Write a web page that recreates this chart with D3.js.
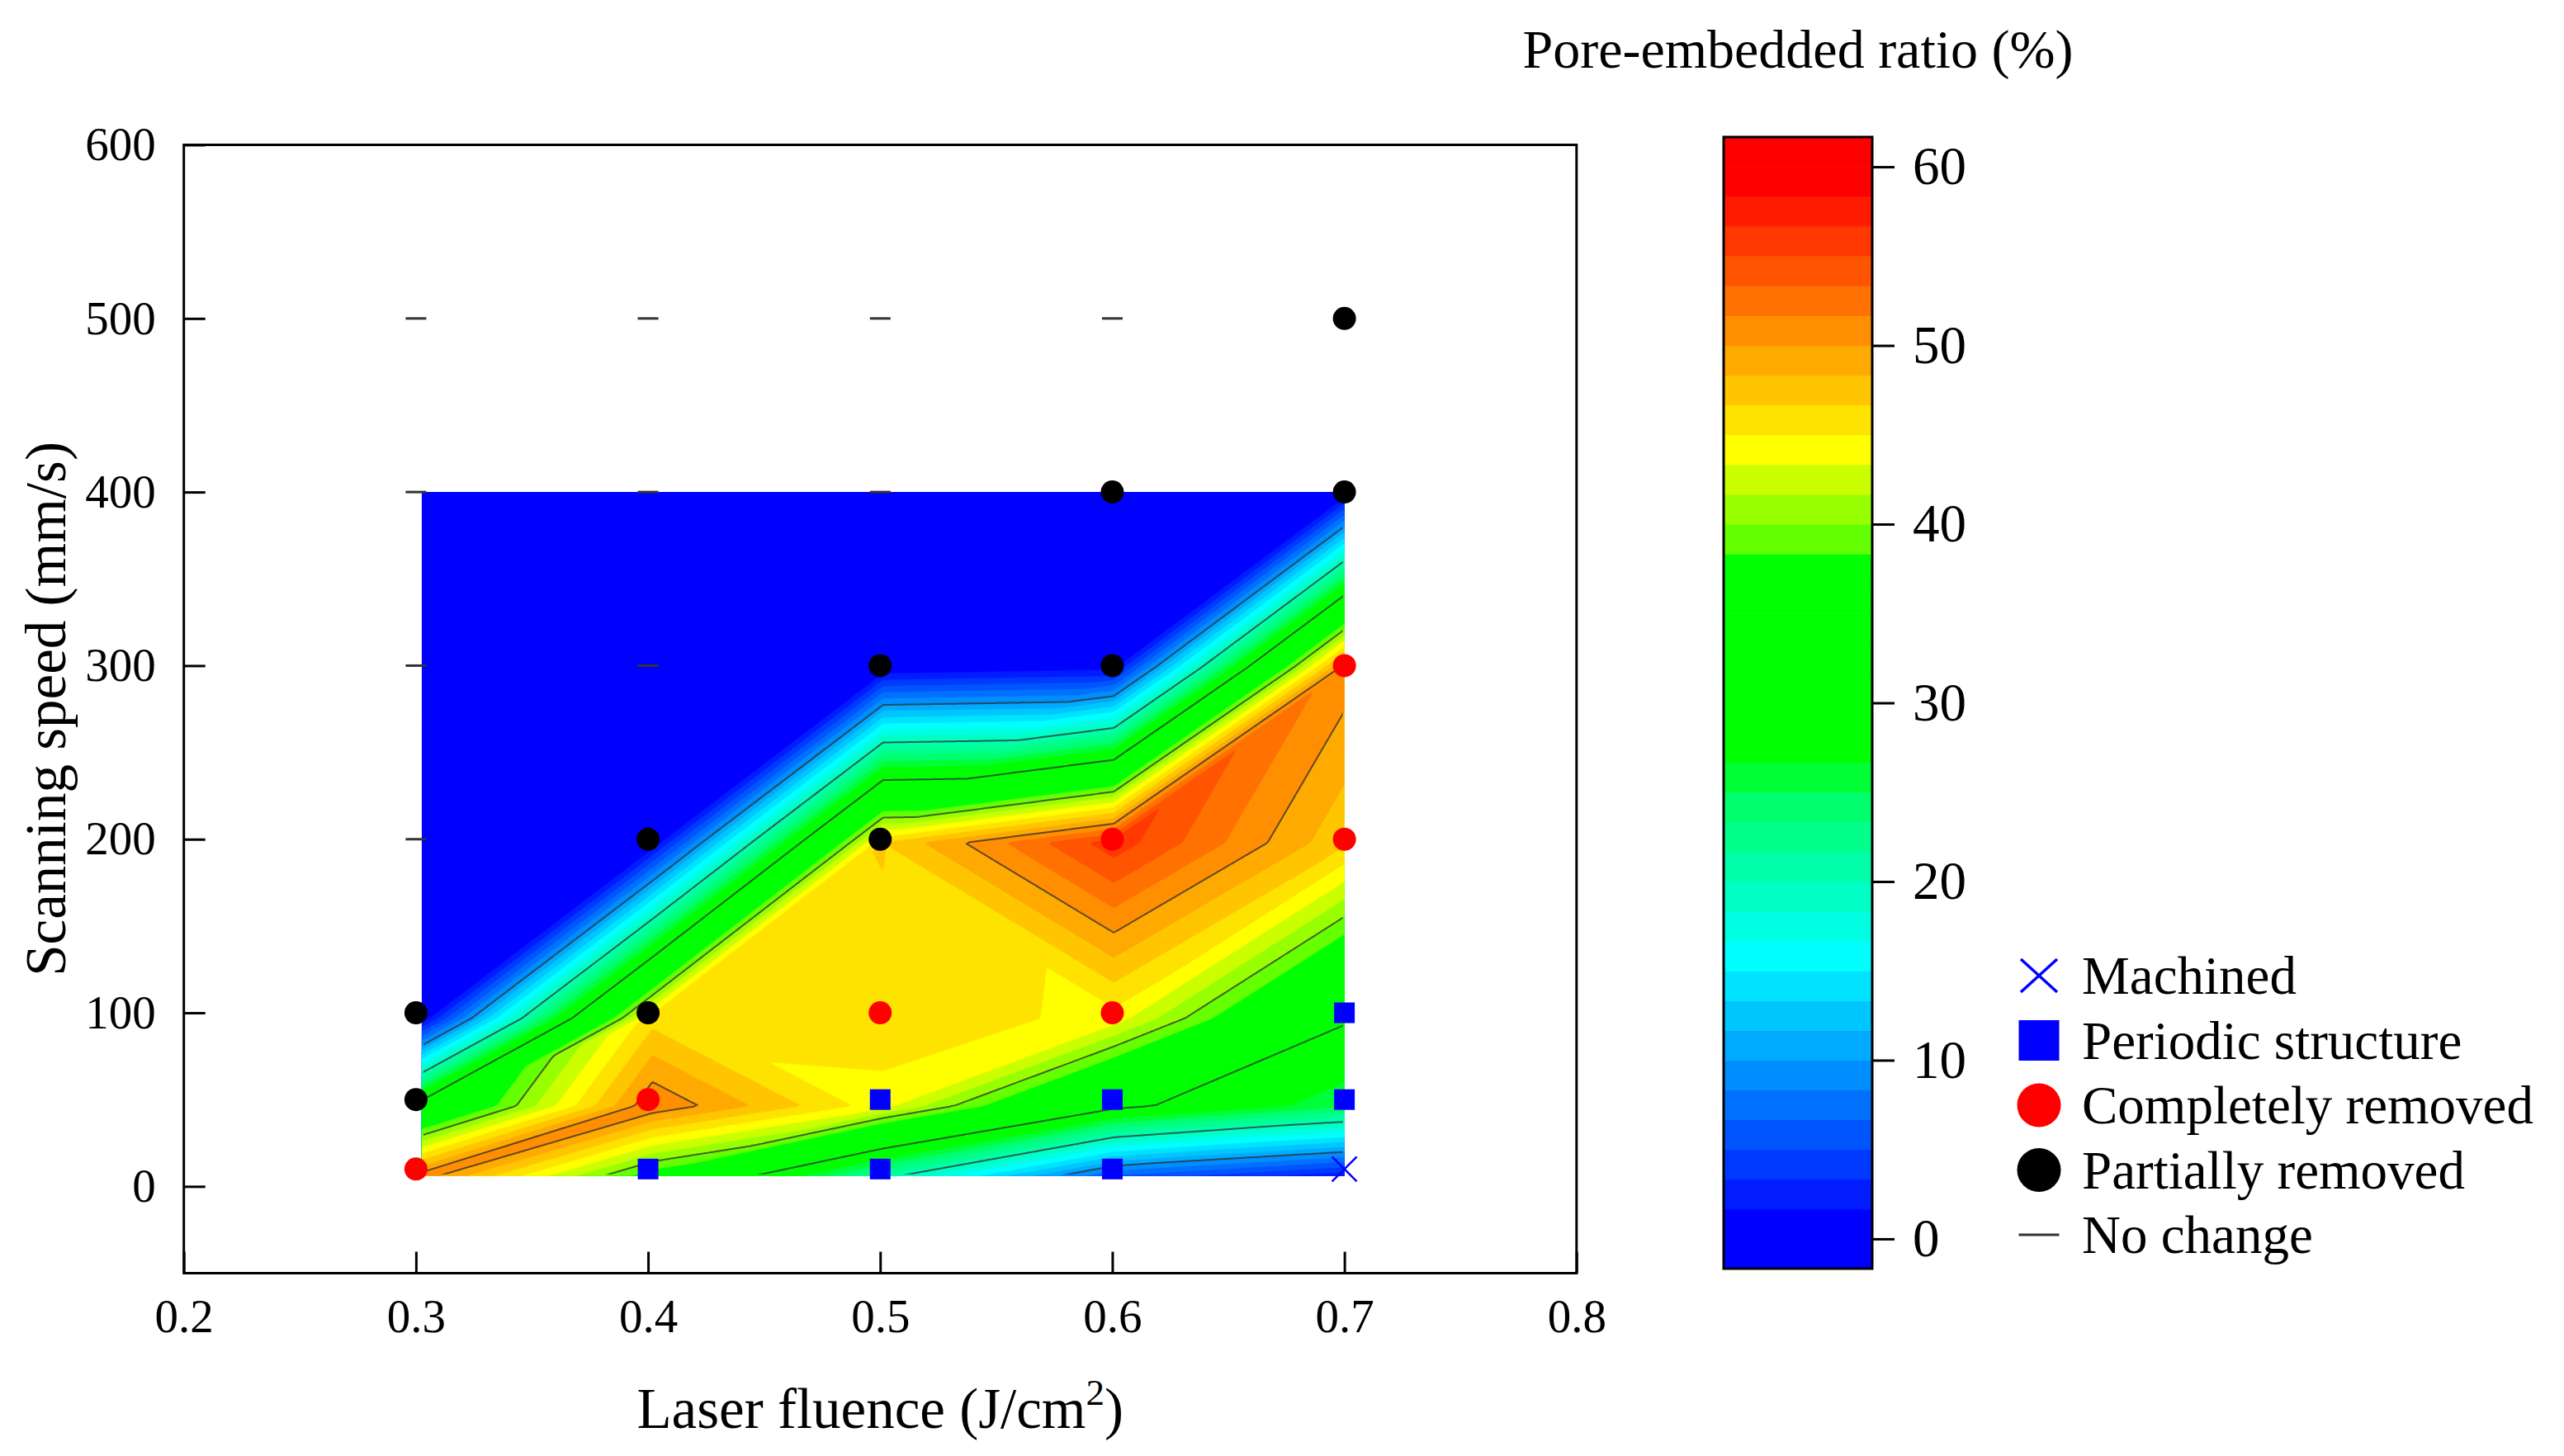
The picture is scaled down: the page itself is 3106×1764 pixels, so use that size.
<!DOCTYPE html>
<html lang="en">
<head>
<meta charset="UTF-8">
<script src="https://d3js.org/d3.v7.min.js"></script>
<title>Pore-embedded ratio contour</title>
<style>
    body { margin: 0; background: #fff; }
    svg text { font-family: "Liberation Serif", "Times New Roman", serif; fill: #000; }
</style>
</head>
<body>
<script>
    // measured grid: laser fluence (J/cm2) x scanning speed (mm/s)
    var fluence = [0.3, 0.4, 0.5, 0.6, 0.7];
    var speed = [10, 50, 100, 200, 300, 400];

    // pore-embedded ratio (%), one row per scanning speed
    var ratio10  = [51, 37, 21, 6.5, 2];
    var ratio50  = [32, 51.5, 44, 31, 25.3];
    var ratio100 = [0, 46, 46.5, 44.3, 30.4];
    var ratio200 = [0, 0, 46.7, 56, 47];
    var ratio300 = [0, 0, 0, 1, 51];
    var ratio400 = [0, 0, 0, 0, 0];

    // surface state at each test point [fluence, speed]
    var machined = [[0.7, 10]];
    var periodic = [[0.4, 10], [0.5, 10], [0.6, 10], [0.5, 50], [0.6, 50], [0.7, 50], [0.7, 100]];
    var completely = [[0.3, 10], [0.4, 50], [0.5, 100], [0.6, 100], [0.6, 200], [0.7, 200], [0.7, 300]];
    var partially = [[0.3, 50], [0.3, 100], [0.4, 100], [0.4, 200], [0.5, 200], [0.5, 300],
                     [0.6, 300], [0.6, 400], [0.7, 400], [0.7, 500]];
    var noChange = [[0.3, 200], [0.3, 300], [0.4, 300], [0.3, 400], [0.4, 400], [0.5, 400],
                    [0.3, 500], [0.4, 500], [0.5, 500], [0.6, 500]];

    var xTicks = [0.2, 0.3, 0.4, 0.5, 0.6, 0.7, 0.8];
    var yTicks = [0, 100, 200, 300, 400, 500, 600];
    var barTicks = [0, 10, 20, 30, 40, 50, 60];
    var lineLevels = [10, 20, 30, 40, 50];
    var legendNames = ["Machined", "Periodic structure", "Completely removed", "Partially removed", "No change"];

    var w = 3106, h = 1764;
    var svg = d3.select("body").append("svg").attr("width", w).attr("height", h);

    var x = d3.scaleLinear().domain([0.2, 0.8]).range([222.7, 1909.8]);
    var y = d3.scaleLinear().domain([-50, 600]).range([1542.5, 175.5]);

    // the contour layer sits a little off the marker grid in the original
    var xc = d3.scaleLinear().domain([0.3, 0.7]).range([x(0.3025), x(0.7)]);
    var yc = d3.scaleLinear().domain([10, 400]).range([y(6), y(400)]);

    var rows = [ratio10, ratio50, ratio100, ratio200, ratio300, ratio400];

    // linear interpolation on triangles, each cell split along the flatter diagonal
    function surface(fx, sy) {
        var i = Math.max(0, Math.min(d3.bisectRight(fluence, fx) - 1, fluence.length - 2));
        var j = Math.max(0, Math.min(d3.bisectRight(speed, sy) - 1, speed.length - 2));
        var u = Math.max(0, Math.min(1, (fx - fluence[i]) / (fluence[i + 1] - fluence[i])));
        var v = Math.max(0, Math.min(1, (sy - speed[j]) / (speed[j + 1] - speed[j])));
        var a = rows[j][i], b = rows[j][i + 1], c = rows[j + 1][i], d = rows[j + 1][i + 1];
        if (Math.abs(a - d) <= Math.abs(b - c)) {
            return u >= v ? a + u * (b - a) + v * (d - b) : a + v * (c - a) + u * (d - c);
        }
        return u + v <= 1 ? a + u * (b - a) + v * (c - a) : d + (1 - u) * (c - d) + (1 - v) * (b - d);
    }

    var cLeft = xc(0.3), cRight = xc(0.7), cTop = yc(400), cBottom = yc(10);
    var step = 2;
    var nx = Math.round((cRight - cLeft) / step) + 1, ny = Math.round((cBottom - cTop) / step) + 1;
    var dx = (cRight - cLeft) / (nx - 1), dy = (cBottom - cTop) / (ny - 1);
    var NX = nx + 2, NY = ny + 2;
    var grid = new Float64Array(NX * NY).fill(-100);
    for (var r = 0; r < ny; r++) {
        var sv = yc.invert(cTop + r * dy);
        for (var k = 0; k < nx; k++) {
            grid[(r + 1) * NX + k + 1] = surface(xc.invert(cLeft + k * dx), sv);
        }
    }

    var toScreen = d3.geoTransform({
        point: function(gx, gy) {
            this.stream.point(cLeft + (gx - 1.5) * dx, cTop + (gy - 1.5) * dy);
        }
    });
    var path = d3.geoPath(toScreen);

    var levels = d3.range(0, 38).map(function(k) { return -5 / 3 + k * 5 / 3; });
    var bandColor = d3.scaleLinear()
        .domain([0, 15, 70 / 3, 80 / 3, 110 / 3, 115 / 3, 130 / 3, 175 / 3])
        .range(["#0000ff", "#00ffff", "#00ff6e", "#00ff00", "#00ff00", "#64ff00", "#ffff00", "#ff0000"])
        .clamp(true);

    var defs = svg.append("defs");
    defs.append("clipPath").attr("id", "area")
        .append("rect").attr("x", cLeft).attr("y", cTop)
        .attr("width", cRight - cLeft).attr("height", cBottom - cTop);
    defs.append("clipPath").attr("id", "inner")
        .append("rect").attr("x", cLeft + 2).attr("y", cTop + 2)
        .attr("width", cRight - cLeft - 4).attr("height", cBottom - cTop - 4);

    var fills = d3.contours().size([NX, NY]).thresholds(levels)(grid);
    svg.append("g").attr("clip-path", "url(#area)")
        .selectAll("path")
        .data(fills)
        .enter()
        .append("path")
        .attr("d", path)
        .attr("fill", function(d) { return bandColor(d.value); })
        .attr("stroke", function(d) { return bandColor(d.value); })
        .attr("stroke-width", 0.6);

    var isolines = d3.contours().size([NX, NY]).thresholds(lineLevels)(grid);
    svg.append("g").attr("clip-path", "url(#inner)")
        .selectAll("path")
        .data(isolines)
        .enter()
        .append("path")
        .attr("d", path)
        .attr("fill", "none")
        .attr("stroke", "#2e2e2e")
        .attr("stroke-opacity", 0.75)
        .attr("stroke-width", 2);

    // axes
    var xAxis = svg.append("g")
        .attr("transform", "translate(0," + y(-50) + ")")
        .call(d3.axisBottom(x).tickValues(xTicks).tickFormat(d3.format(".1f"))
            .tickSize(-26).tickPadding(31));
    var yAxis = svg.append("g")
        .attr("transform", "translate(" + x(0.2) + ",0)")
        .call(d3.axisLeft(y).tickValues(yTicks).tickSize(-26).tickPadding(34));
    [xAxis, yAxis].forEach(function(a) {
        a.select(".domain").remove();
        a.selectAll("line").attr("stroke", "#000").attr("stroke-width", 3);
        a.selectAll("text").attr("font-size", 57).attr("font-family", null);
    });

    svg.append("rect")
        .attr("x", x(0.2)).attr("y", y(600))
        .attr("width", x(0.8) - x(0.2)).attr("height", y(-50) - y(600))
        .attr("fill", "none").attr("stroke", "#000").attr("stroke-width", 3);

    var xTitle = svg.append("text")
        .attr("x", x(0.5)).attr("y", 1730)
        .attr("text-anchor", "middle").attr("font-size", 69);
    xTitle.append("tspan").text("Laser fluence (J/cm");
    xTitle.append("tspan").attr("dy", -28).attr("font-size", 45).text("2");
    xTitle.append("tspan").attr("dy", 28).text(")");

    svg.append("text")
        .attr("transform", "translate(79," + y(275) + ") rotate(-90)")
        .attr("text-anchor", "middle").attr("font-size", 69)
        .text("Scanning speed (mm/s)");

    // markers
    var pts = svg.append("g");
    pts.selectAll("line.nc")
        .data(noChange)
        .enter()
        .append("line")
        .attr("x1", function(d) { return x(d[0]) - 12.5; })
        .attr("x2", function(d) { return x(d[0]) + 12.5; })
        .attr("y1", function(d) { return y(d[1]); })
        .attr("y2", function(d) { return y(d[1]); })
        .attr("stroke", "#333").attr("stroke-width", 3);
    pts.selectAll("circle.pr")
        .data(partially)
        .enter()
        .append("circle")
        .attr("cx", function(d) { return x(d[0]); })
        .attr("cy", function(d) { return y(d[1]); })
        .attr("r", 14).attr("fill", "#000");
    pts.selectAll("circle.cr")
        .data(completely)
        .enter()
        .append("circle")
        .attr("cx", function(d) { return x(d[0]); })
        .attr("cy", function(d) { return y(d[1]); })
        .attr("r", 14).attr("fill", "#ff0000");
    pts.selectAll("rect.ps")
        .data(periodic)
        .enter()
        .append("rect")
        .attr("x", function(d) { return x(d[0]) - 12.5; })
        .attr("y", function(d) { return y(d[1]) - 12.5; })
        .attr("width", 25).attr("height", 25).attr("fill", "#0000ff");
    machined.forEach(function(d) {
        var cx = x(d[0]), cy = y(d[1]);
        pts.append("path")
            .attr("d", "M" + (cx - 15) + "," + (cy - 15) + "L" + (cx + 15) + "," + (cy + 15) +
                       "M" + (cx - 15) + "," + (cy + 15) + "L" + (cx + 15) + "," + (cy - 15))
            .attr("stroke", "#0000ff").attr("stroke-width", 2.5);
    });

    // colour bar
    var cb = d3.scaleLinear().domain([-5 / 3, 185 / 3]).range([1537, 166]);
    var bar = svg.append("g");
    bar.selectAll("rect")
        .data(levels)
        .enter()
        .append("rect")
        .attr("x", 2088).attr("width", 180)
        .attr("y", function(d) { return cb(d + 5 / 3); })
        .attr("height", function(d) { return cb(d) - cb(d + 5 / 3) + 0.5; })
        .attr("fill", function(d) { return bandColor(d); });
    bar.append("rect")
        .attr("x", 2088).attr("y", cb(185 / 3))
        .attr("width", 180).attr("height", cb(-5 / 3) - cb(185 / 3))
        .attr("fill", "none").attr("stroke", "#000").attr("stroke-width", 3);
    var barAxis = svg.append("g")
        .attr("transform", "translate(2268,0)")
        .call(d3.axisRight(cb).tickValues(barTicks).tickSize(27).tickPadding(22));
    barAxis.select(".domain").remove();
    barAxis.selectAll("line").attr("stroke", "#000").attr("stroke-width", 3);
    barAxis.selectAll("text").attr("font-size", 65).attr("font-family", null);

    svg.append("text")
        .attr("x", 2178).attr("y", 82)
        .attr("text-anchor", "middle").attr("font-size", 66)
        .text("Pore-embedded ratio (%)");

    // legend
    var legend = svg.append("g");
    var legendY = d3.scaleLinear().domain([0, 4]).range([1182, 1496]);
    legendNames.forEach(function(name, i) {
        var cy = legendY(i), cx = 2470;
        if (i === 0) {
            legend.append("path")
                .attr("d", "M" + (cx - 22) + "," + (cy - 20) + "L" + (cx + 22) + "," + (cy + 20) +
                           "M" + (cx - 22) + "," + (cy + 20) + "L" + (cx + 22) + "," + (cy - 20))
                .attr("stroke", "#0000ff").attr("stroke-width", 3.5);
        } else if (i === 1) {
            legend.append("rect").attr("x", cx - 24.5).attr("y", cy - 24.5)
                .attr("width", 49).attr("height", 49).attr("fill", "#0000ff");
        } else if (i === 2 || i === 3) {
            legend.append("circle").attr("cx", cx).attr("cy", cy).attr("r", 26.5)
                .attr("fill", i === 2 ? "#ff0000" : "#000");
        } else {
            legend.append("line").attr("x1", cx - 24.5).attr("x2", cx + 24.5)
                .attr("y1", cy).attr("y2", cy).attr("stroke", "#333").attr("stroke-width", 3);
        }
        legend.append("text")
            .attr("x", 2522).attr("y", cy + 22)
            .attr("font-size", 65)
            .text(name);
    });
</script>
</body>
</html>
